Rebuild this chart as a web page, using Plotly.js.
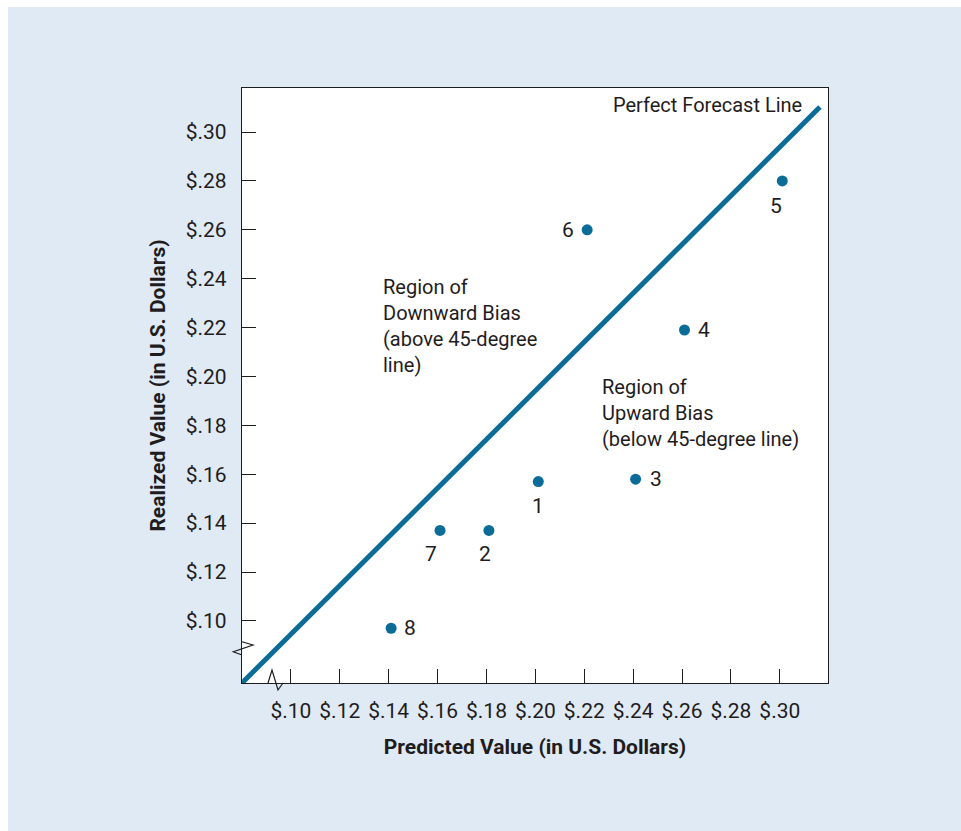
<!DOCTYPE html>
<html>
<head>
<meta charset="utf-8">
<script src="https://cdn.plot.ly/plotly-3.0.1.min.js"></script>
<style>
  html, body { margin: 0; padding: 0; background: #ffffff; }
  #chart { position: absolute; left: 8px; top: 7px; width: 953px; height: 824px; }
</style>
</head>
<body>
<div id="chart"></div>
<script>
// ---- data ----
const pointLabels = ["1", "2", "3", "4", "5", "6", "7", "8"];
const predicted = [0.2012, 0.1810, 0.2410, 0.2610, 0.3010, 0.2212, 0.1610, 0.1410];
const realized  = [0.157, 0.137, 0.158, 0.219, 0.280, 0.260, 0.137, 0.097];

const forecastLineX = [0.0800, 0.3164];
const forecastLineY = [0.0746, 0.3102];

const tickValues = [0.10, 0.12, 0.14, 0.16, 0.18, 0.20, 0.22, 0.24, 0.26, 0.28, 0.30];
const tickLabels = ["$.10", "$.12", "$.14", "$.16", "$.18", "$.20", "$.22", "$.24", "$.26", "$.28", "$.30"];

// label offsets (pixels) for the point numbers
const labelDX = [0, -4, 20, 20, -6, -19, -9, 19];
const labelDY = [-24, -24, 0, 0, -25, 0, -24, 0];

const FONT = "Roboto, 'Liberation Sans', sans-serif";
const TXT = "#1f1c1d";
const BLUE = "#0b6c97";

const traces = [
  {
    x: forecastLineX, y: forecastLineY, mode: "lines", type: "scatter",
    line: { color: BLUE, width: 5 }, hoverinfo: "skip", cliponaxis: false
  },
  {
    x: predicted, y: realized, mode: "markers", type: "scatter",
    marker: { color: BLUE, size: 11 }, text: pointLabels
  }
];

const annotations = pointLabels.map((t, i) => ({
  x: predicted[i], y: realized[i], xref: "x", yref: "y",
  text: t, showarrow: false, xshift: labelDX[i], yshift: labelDY[i],
  font: { family: FONT, size: 21, color: TXT }
}));

annotations.push({
  x: 0.3098, y: 0.3110, xref: "x", yref: "y", xanchor: "right", yanchor: "middle",
  text: "Perfect Forecast Line", showarrow: false,
  font: { family: FONT, size: 20, color: TXT }
});
annotations.push({
  x: 0.1368, y: 0.2423, xref: "x", yref: "y", xanchor: "left", yanchor: "top", align: "left",
  text: "Region of<br>Downward Bias<br>(above 45-degree<br>line)", showarrow: false,
  font: { family: FONT, size: 20, color: TXT }
});
annotations.push({
  x: 0.2264, y: 0.2014, xref: "x", yref: "y", xanchor: "left", yanchor: "top", align: "left",
  text: "Region of<br>Upward Bias<br>(below 45-degree line)", showarrow: false,
  font: { family: FONT, size: 20, color: TXT }
});

const shapes = [
  { type: "path", xref: "paper", yref: "paper",
    path: "M 0,0.0694 L 0.01877,0.0639 L -0.01485,0.0526 L 0,0.0471",
    line: { color: TXT, width: 1.2 } },
  { type: "path", xref: "paper", yref: "paper",
    path: "M 0.0444,0 L 0.0512,0.0218 L 0.0614,-0.0118 L 0.070,0",
    line: { color: TXT, width: 1.2 } }
];

const axisCommon = {
  tickvals: tickValues, ticktext: tickLabels,
  ticks: "inside", ticklen: 14, tickwidth: 1, tickcolor: TXT,
  showline: true, linecolor: TXT, linewidth: 1.2, mirror: true,
  showgrid: false, zeroline: false,
  tickfont: { family: FONT, size: 21, color: TXT }
};

const layout = {
  width: 953, height: 824,
  paper_bgcolor: "#e0eaf5", plot_bgcolor: "#ffffff",
  margin: { l: 234, r: 133, t: 81, b: 148 },
  showlegend: false,
  xaxis: Object.assign({}, axisCommon, {
    range: [0.0800, 0.3197],
    ticklabelstandoff: 9,
    title: { text: "<b>Predicted Value (in U.S. Dollars)</b>", standoff: 16,
             font: { family: FONT, size: 21, color: TXT } }
  }),
  yaxis: Object.assign({}, axisCommon, {
    range: [0.0746, 0.3180],
    ticklabelstandoff: 10,
    title: { text: "<b>Realized Value (in U.S. Dollars)</b>", standoff: 14,
             font: { family: FONT, size: 21, color: TXT } }
  }),
  annotations: annotations,
  shapes: shapes
};

Plotly.newPlot("chart", traces, layout, { displayModeBar: false, staticPlot: true });
</script>
</body>
</html>
